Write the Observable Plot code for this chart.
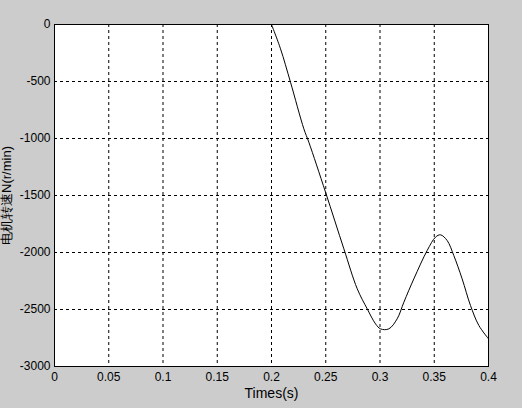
<!DOCTYPE html>
<html>
<head>
<meta charset="utf-8">
<script src="https://cdn.jsdelivr.net/npm/d3@7"></script>
<script src="https://cdn.jsdelivr.net/npm/@observablehq/plot@0.6"></script>
<style>
  html, body { margin: 0; padding: 0; background: #cccccc; }
  #chart svg { display: block; }
</style>
</head>
<body>
<div id="chart"></div>
<script>
const times = [0.2, 0.2083, 0.2175, 0.2298, 0.2344, 0.2498, 0.2667, 0.279, 0.2882, 0.2959, 0.3005, 0.3081, 0.3158, 0.322, 0.3312, 0.3435, 0.3512, 0.3558, 0.3619, 0.368, 0.3757, 0.3834, 0.3911, 0.4];
const speeds = [0, -213, -506, -915, -1032, -1471, -1968, -2318, -2494, -2626, -2670, -2670, -2582, -2436, -2231, -1982, -1865, -1845, -1895, -2026, -2231, -2465, -2640, -2757];
const xTicks = [0, 0.05, 0.1, 0.15, 0.2, 0.25, 0.3, 0.35, 0.4];
const yTicks = [0, -500, -1000, -1500, -2000, -2500, -3000];
const xLabel = "Times(s)";
const yLabel = "电机转速N(r/min)";

const data = times.map((t, i) => ({t, v: speeds[i]}));

const chart = Plot.plot({
  width: 522,
  height: 408,
  marginLeft: 54,
  marginRight: 34,
  marginTop: 24,
  marginBottom: 42,
  style: {background: "#cccccc", fontFamily: "Liberation Sans, Arial, sans-serif", fontSize: "12px", color: "black"},
  x: {domain: [0, 0.4]},
  y: {domain: [-3000, 0]},
  marks: [
    Plot.frame({fill: "white", stroke: "none"}),
    Plot.gridX(xTicks, {stroke: "black", strokeOpacity: 1, strokeDasharray: "3,3"}),
    Plot.gridY(yTicks, {stroke: "black", strokeOpacity: 1, strokeDasharray: "3,3"}),
    Plot.line(data, {x: "t", y: "v", stroke: "black", strokeWidth: 1, curve: "catmull-rom"}),
    Plot.frame({stroke: "black", strokeWidth: 1}),
    Plot.axisX({ticks: xTicks, tickSize: 0, tickPadding: 6, tickFormat: d => String(d), label: null, fontSize: 12}),
    Plot.axisY({ticks: yTicks, tickSize: 0, tickPadding: 4, tickFormat: d => String(d), label: null, fontSize: 12}),
    Plot.text([xLabel], {frameAnchor: "bottom", dy: 31, fontSize: 14, text: d => d}),
    Plot.text([yLabel], {frameAnchor: "left", textAnchor: "middle", dx: -48, rotate: -90, fontSize: 13, text: d => d})
  ]
});
document.getElementById("chart").appendChild(chart);
</script>
</body>
</html>
